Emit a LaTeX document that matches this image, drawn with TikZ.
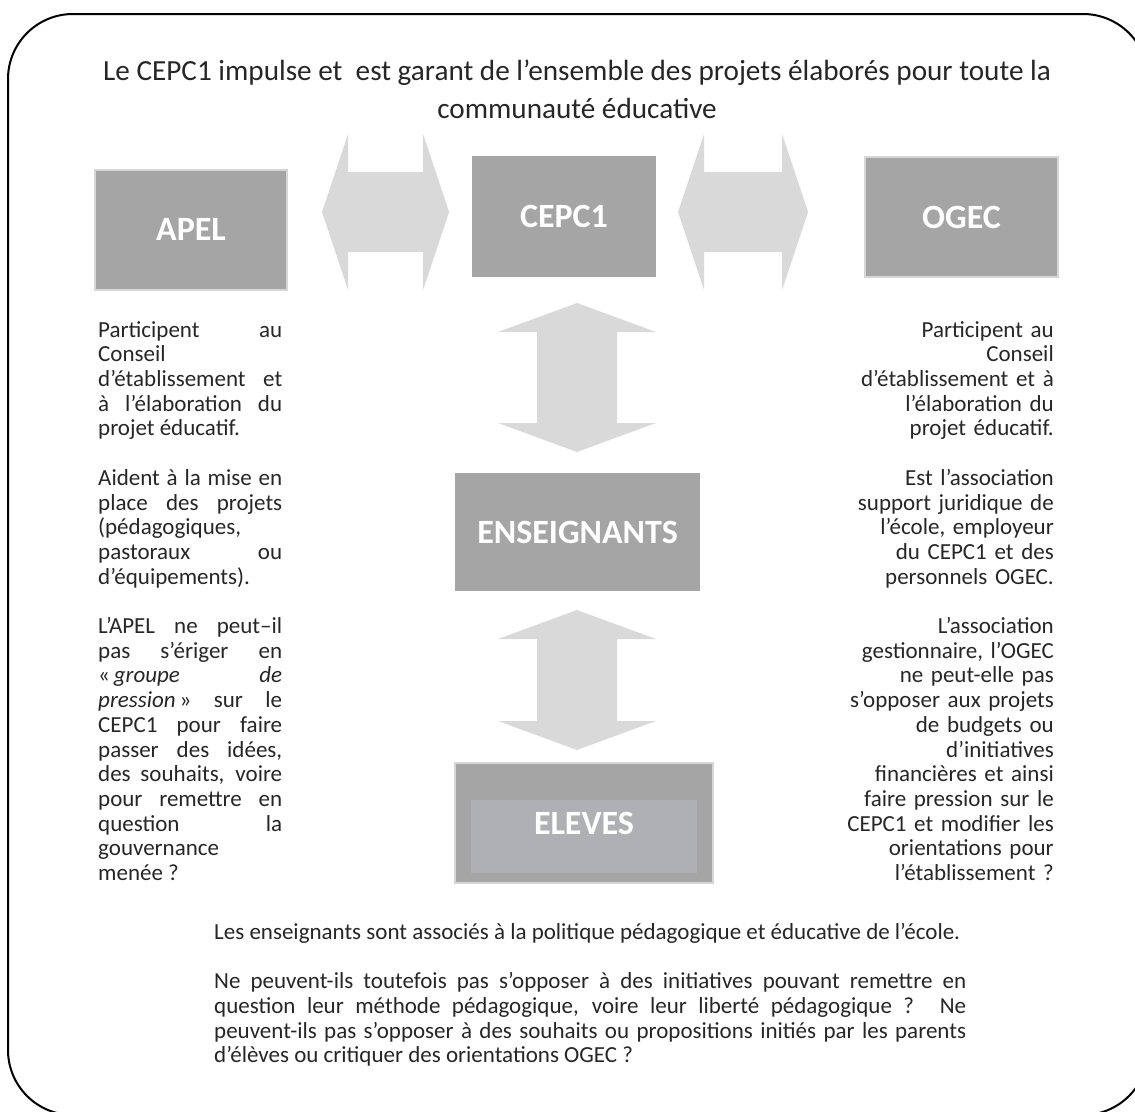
\documentclass[tikz,border=0pt]{standalone}
\usepackage{fontspec}
\setmainfont{Carlito}
\definecolor{boxgray}{HTML}{A5A5A5}
\definecolor{arrowgray}{HTML}{D9D9D9}
\definecolor{rimgray}{HTML}{D6D6D6}
\definecolor{innergray}{HTML}{AFB0B4}
\definecolor{inkgray}{HTML}{262626}
\newcommand{\hdblarrow}[3]{\fill[twoway] (#1,#3) -- (#1+26,#3-78) -- (#1+26,#3-40) -- (#2-26,#3-40) -- (#2-26,#3-78) -- (#2,#3) -- (#2-26,#3+78) -- (#2-26,#3+40) -- (#1+26,#3+40) -- (#1+26,#3+78) -- cycle;}
\newcommand{\vdblarrow}[3]{\fill[twoway] (#1,#2) -- (#1+79,#2+29) -- (#1+40,#2+29) -- (#1+40,#3-29) -- (#1+79,#3-29) -- (#1,#3) -- (#1-79,#3-29) -- (#1-40,#3-29) -- (#1-40,#2+29) -- (#1-79,#2+29) -- cycle;}
\begin{document}
\begin{tikzpicture}[x=1pt,y=-1pt,
  box/.style={fill=boxgray,inner sep=0pt,text=white,font=\fontsize{34}{40}\selectfont\bfseries},
  rim/.style={draw=rimgray,line width=2pt},
  twoway/.style={fill=arrowgray},
  body/.style={inner sep=0pt,text=inkgray,font=\fontsize{23}{24.7}\selectfont}]
\useasboundingbox (0,0) rectangle (1135,1111);
\clip (0,0) rectangle (1135,1111);
\draw[line width=2pt,rounded corners=65pt] (8,14) rectangle (1148,1115);

\node[body,anchor=north,align=center,font=\fontsize{29.2}{38}\selectfont] (title) at (577,60)
  {Le CEPC1 impulse et \ est garant de l’ensemble des projets élaborés pour toute la\\communauté éducative};

\node[box,rim,minimum width=192pt,minimum height=120pt] (apel) at (191,229.5) {APEL};
\node[box,minimum width=184pt,minimum height=121pt] (cepc) at (564,216.5) {CEPC1};
\node[box,rim,minimum width=193pt,minimum height=120pt] (ogec) at (961.5,217) {OGEC};
\node[box,minimum width=245pt,minimum height=118pt] (ens) at (577.5,532) {ENSEIGNANTS};
\node[box,rim,minimum width=258pt,minimum height=120pt] (eleves) at (584,823) {};
\node[fill=innergray,inner sep=0pt,minimum width=226pt,minimum height=73pt] (elevesin) at (584,836.5) {};
\node[box,fill=none] (elevestxt) at (eleves.center) {ELEVES};

\hdblarrow{322}{449}{212}
\hdblarrow{678}{808}{212}
\vdblarrow{577}{303}{452}
\vdblarrow{577}{610}{750}

\node[body,anchor=north west,text width=184pt,align=justify] (apeltxt) at (98,321)
  {Participent au\linebreak Conseil\newline
   d’établissement et\linebreak à l’élaboration du\linebreak projet éducatif.\newline\mbox{}\newline
   Aident à la mise en\linebreak place des projets\linebreak (pédagogiques,\newline
   pastoraux ou\linebreak d’équipements).\newline\mbox{}\newline
   L’APEL ne peut–il\linebreak pas s’ériger en\linebreak «\,\textit{groupe de}\linebreak
   \textit{pression}\,» sur le\linebreak CEPC1 pour faire\linebreak passer des idées,\linebreak
   des souhaits, voire\linebreak pour remettre en\linebreak question la\linebreak gouvernance\newline
   menée~?};

\node[body,anchor=north east,text width=210pt,align=right] (ogectxt) at (1054,321)
  {Participent au\\ Conseil\\ d’établissement et à\\ l’élaboration du\\ projet éducatif.\\[24.7pt]
   Est l’association\\ support juridique de\\ l’école, employeur\\ du CEPC1 et des\\ personnels OGEC.\\[24.7pt]
   L’association\\ gestionnaire, l’OGEC\\ ne peut-elle pas\\ s’opposer aux projets\\ de budgets ou\\
   d’initiatives\\ financières et ainsi\\ faire pression sur le\\ CEPC1 et modifier les\\ orientations pour\\
   l’établissement~?};

\node[body,anchor=north west,text width=752pt,align=justify] (enstxt) at (214,923)
  {Les enseignants sont associés à la politique pédagogique et éducative de l’école.\newline\mbox{}\newline
   Ne peuvent-ils toutefois pas s’opposer à des initiatives pouvant remettre en\linebreak
   question leur méthode pédagogique, voire leur liberté pédagogique~? Ne\linebreak
   peuvent-ils pas s’opposer à des souhaits ou propositions initiés par les parents\linebreak
   d’élèves ou critiquer des orientations OGEC~?};
\end{tikzpicture}
\end{document}
